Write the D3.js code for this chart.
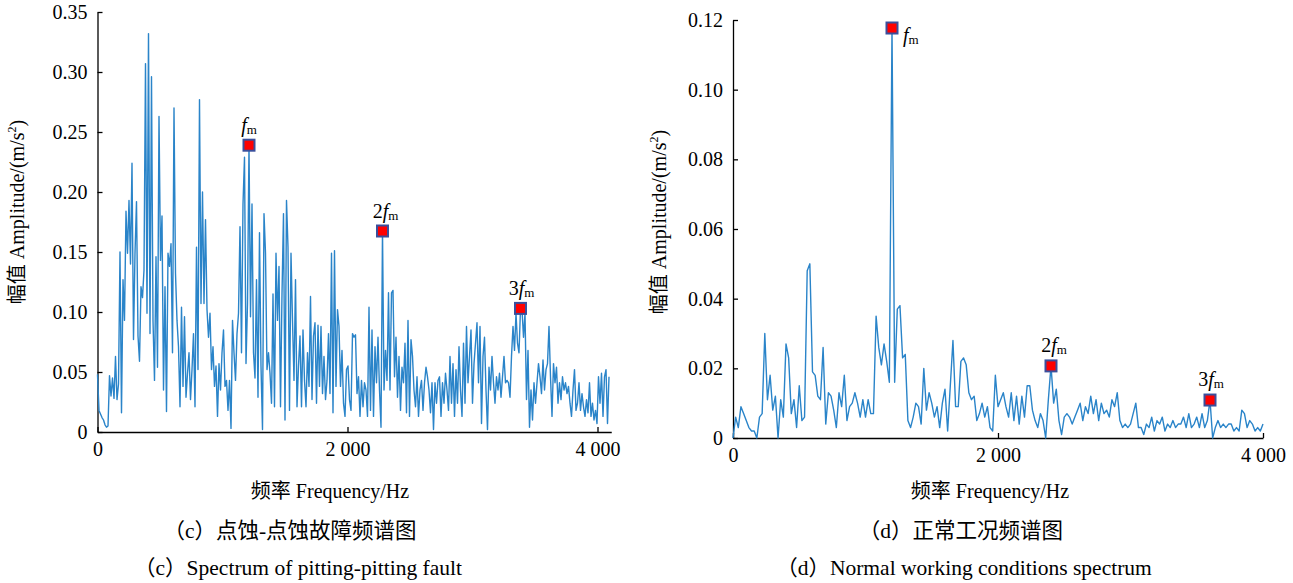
<!DOCTYPE html>
<html><head><meta charset="utf-8">
<script src="https://cdn.jsdelivr.net/npm/d3@7"></script>
<style>
body{margin:0;background:#fff}
text{font-family:'Liberation Serif','Times New Roman','Noto Sans CJK SC',serif;fill:#000}
</style>
</head><body><svg id="c" width="1293" height="583"></svg>
<script>
// ---------- data ----------
const leftStep = 12; // Hz between spectrum lines, panel (c)
const leftAmp = [
0.048,0.018,0.015,0.012,0.010,0.006,0.004,0.005,0.047,0.030,
0.045,0.028,0.063,0.027,0.040,0.150,0.016,0.127,0.093,0.184,
0.149,0.193,0.140,0.224,0.077,0.149,0.192,0.080,0.059,0.121,
0.112,0.135,0.307,0.099,0.332,0.082,0.296,0.093,0.043,0.146,
0.054,0.263,0.143,0.180,0.035,0.121,0.017,0.149,0.138,0.157,
0.066,0.270,0.132,0.093,0.071,0.021,0.104,0.038,0.096,0.029,
0.049,0.066,0.027,0.052,0.082,0.021,0.154,0.052,0.277,0.107,
0.200,0.107,0.177,0.102,0.079,0.099,0.052,0.071,0.038,0.055,
0.013,0.057,0.035,0.066,0.085,0.038,0.043,0.018,0.043,0.003,
0.093,0.066,0.043,0.082,0.099,0.171,0.066,0.190,0.229,0.057,
0.107,0.239,
0.096,0.190,0.066,0.045,0.127,0.029,0.166,0.055,0.002,0.182,
0.149,0.052,0.066,0.049,0.024,0.115,0.021,0.149,0.093,0.138,
0.021,0.115,0.182,0.010,0.193,0.154,0.018,0.149,0.093,0.043,
0.127,0.021,0.055,0.080,0.021,0.085,0.043,0.021,0.066,0.038,
0.113,0.027,0.080,0.091,0.024,0.089,0.038,0.088,0.032,0.063,
0.027,0.043,0.082,0.032,0.149,0.016,0.151,0.038,0.102,0.088,
0.038,0.068,0.024,0.013,0.052,0.055,0.027,0.018,0.082,0.079,
0.081,0.032,0.046,0.013,0.043,0.021,0.041,0.035,0.013,0.104,
0.018,0.085,0.013,0.071,0.041,0.079,0.035,0.004,0.1675,0.035,
0.068,0.043,0.116,0.035,0.116,0.118,0.046,0.079,0.029,0.063,
0.018,0.054,0.041,0.074,0.016,0.093,0.013,0.077,0.063,0.035,
0.021,0.046,0.013,0.035,0.043,0.018,0.041,0.054,0.046,0.035,
0.016,0.041,0.002,0.041,0.024,0.043,0.046,0.013,0.041,0.024,
0.049,0.035,0.018,0.063,0.024,0.057,0.013,0.052,0.024,0.071,
0.035,0.013,0.074,0.024,0.088,0.041,0.063,0.085,0.024,0.057,
0.074,0.091,0.041,0.088,0.007,0.063,0.079,0.035,0.002,0.054,
0.035,0.063,0.041,0.024,0.046,0.035,0.049,0.029,0.046,0.063,
0.041,0.043,0.041,0.029,0.063,0.088,0.068,0.099,0.074,0.066,
0.103,0.102,0.079,0.099,0.027,0.068,0.004,0.035,0.010,0.041,
0.024,0.041,0.057,0.046,0.032,0.060,0.035,0.052,0.057,0.088,
0.046,0.013,0.057,0.041,0.054,0.024,0.041,0.027,0.046,0.035,
0.041,0.032,0.038,0.024,0.013,0.035,0.052,0.018,0.024,0.041,
0.018,0.032,0.021,0.013,0.027,0.016,0.041,0.013,0.024,0.010,
0.018,0.007,0.046,0.024,0.049,0.013,0.046,0.052,0.007,0.046
];
const leftMarkFreq = [1212, 2280, 3384];
const leftMarkAmp  = [0.239, 0.1675, 0.103];
const markMult     = ["", "2", "3"];

const rightStep = 20; // Hz, panel (d)
const rightAmp = [
0.000,0.006,0.003,0.009,0.007,0.005,0.003,0.002,0.002,0.000,
0.006,0.007,0.030,0.011,0.018,0.008,0.012,0.000,0.011,0.006,
0.027,0.023,0.007,0.011,0.003,0.015,0.005,0.006,0.048,0.050,
0.019,0.018,0.012,0.011,0.026,0.004,0.013,0.012,0.008,0.003,
0.013,0.009,0.018,0.005,0.009,0.010,0.013,0.010,0.006,0.011,
0.006,0.011,0.007,0.007,0.035,0.026,0.021,0.027,0.022,0.016,
0.1177,0.016,0.037,0.038,0.023,0.024,0.005,0.003,0.006,0.010,
0.009,0.004,0.020,0.008,0.013,0.010,0.006,0.009,0.003,0.010,
0.014,0.002,0.015,0.028,0.009,0.009,0.022,0.023,0.021,0.013,
0.011,0.012,0.005,0.007,0.010,0.006,0.009,0.003,0.002,0.018,
0.009,0.011,0.013,0.009,0.006,0.013,0.005,0.012,0.004,0.012,
0.006,0.015,0.015,0.008,0.005,0.003,0.007,0.005,0.000,0.011,
0.0207,0.010,0.014,0.005,0.001,0.006,0.007,0.006,0.004,0.006,
0.008,0.010,0.005,0.009,0.007,0.012,0.007,0.011,0.005,0.010,
0.007,0.008,0.006,0.011,0.009,0.013,0.005,0.003,0.004,0.003,
0.004,0.007,0.010,0.003,0.003,0.001,0.004,0.003,0.006,0.002,
0.005,0.004,0.006,0.002,0.004,0.003,0.005,0.003,0.004,0.004,
0.006,0.003,0.007,0.003,0.004,0.006,0.003,0.007,0.003,0.005,
0.0109,0.000,0.003,0.005,0.003,0.004,0.003,0.004,0.004,0.002,
0.003,0.002,0.008,0.007,0.003,0.005,0.004,0.002,0.003,0.002,
0.004
];
const rightMarkFreq = [1200, 2400, 3600];
const rightMarkAmp  = [0.1177, 0.0207, 0.0109];

const leftYTicks  = [0, 0.05, 0.10, 0.15, 0.20, 0.25, 0.30, 0.35];
const rightYTicks = [0, 0.02, 0.04, 0.06, 0.08, 0.10, 0.12];
const xTicks = [0, 2000, 4000];

const yTitleCN = "幅值 ", yTitleEN = "Amplitude/(m/s", yTitleSup = "2", yTitleEnd = ")";
const xTitle = "频率 Frequency/Hz";
const leftCap1 = "（c）点蚀-点蚀故障频谱图";
const leftCap2 = "（c）Spectrum of pitting-pitting fault";
const rightCap1 = "（d）正常工况频谱图";
const rightCap2 = "（d）Normal working conditions spectrum";

// ---------- drawing ----------
const svg = d3.select("#c");
const fmtY = d => d === 0 ? "0" : d3.format(".2f")(d);
const fmtX = d => d === 0 ? "0" : d3.format(",")(d).replace(/,/g, " ");

function panel(o) {
  const x = d3.scaleLinear().domain(o.xDomain).range(o.xRange);
  const y = d3.scaleLinear().domain(o.yDomain).range(o.yRange);
  const g = svg.append("g");

  const ax = g.append("g").attr("transform", `translate(0,${o.yRange[0]})`)
    .call(d3.axisBottom(x).tickValues(xTicks).tickFormat(fmtX)
      .tickSizeInner(-5).tickSizeOuter(0).tickPadding(10));
  const ay = g.append("g").attr("transform", `translate(${o.xRange[0]},0)`)
    .call(d3.axisLeft(y).tickValues(o.yTicks).tickFormat(fmtY)
      .tickSizeInner(-5).tickSizeOuter(0).tickPadding(10));
  [ax, ay].forEach(a => {
    a.selectAll("path.domain").attr("stroke", "#000").attr("stroke-width", 1.3);
    a.selectAll(".tick line").attr("stroke", "#000").attr("stroke-width", 1.3);
    a.selectAll("text").attr("font-size", 20).attr("fill", "#000")
      .style("font-family", "'Liberation Serif','Times New Roman',serif");
  });

  const line = d3.line().x((d, i) => x(i * o.step)).y(d => y(d));
  g.append("path").datum(o.amp).attr("d", line)
    .attr("fill", "none").attr("stroke", "#2a84c9").attr("stroke-width", 1.4)
    .attr("stroke-linejoin", "round");

  o.markF.forEach((f, i) => {
    const cx = x(f), cy = y(o.markA[i]);
    g.append("rect").attr("x", cx - 5.5).attr("y", cy - 5.5)
      .attr("width", 11).attr("height", 11)
      .attr("fill", "#ff0000").attr("stroke", "#3a4f9c").attr("stroke-width", 2);
    const lp = o.labelPos[i];
    const t = g.append("text").attr("x", cx + lp[0]).attr("y", cy + lp[1])
      .attr("text-anchor", lp[2]).attr("font-size", 20);
    if (markMult[i]) t.append("tspan").text(markMult[i]);
    t.append("tspan").attr("font-style", "italic").text("f");
    t.append("tspan").attr("font-size", 13).attr("dy", 2).text("m");
  });

  const yt = g.append("text")
    .attr("transform", `translate(${o.yTitlePos[0]},${o.yTitlePos[1]}) rotate(-90)`)
    .attr("text-anchor", "middle").attr("font-size", 20);
  yt.append("tspan").text(yTitleCN);
  yt.append("tspan").text(yTitleEN);
  yt.append("tspan").attr("font-size", 12).attr("dy", -8).text(yTitleSup);
  yt.append("tspan").attr("dy", 8).text(yTitleEnd);

  g.append("text").attr("x", o.xTitleX).attr("y", 498).attr("text-anchor", "middle")
    .attr("font-size", 20).text(xTitle);
  g.append("text").attr("x", o.cap1X).attr("y", 538).attr("text-anchor", "middle")
    .attr("font-size", 21.5).text(o.cap1);
  g.append("text").attr("x", o.cap2X).attr("y", 575).attr("text-anchor", "middle")
    .attr("font-size", 21.5).text(o.cap2);
}

panel({
  step: leftStep, amp: leftAmp,
  xDomain: [0, 4110], xRange: [97.5, 611.25],
  yDomain: [0, 0.35], yRange: [432, 12], yTicks: leftYTicks,
  markF: leftMarkFreq, markA: leftMarkAmp,
  labelPos: [[0, -13, "middle"], [3, -13, "middle"], [1, -13, "middle"]],
  yTitlePos: [24, 212], xTitleX: 330, cap1X: 290, cap2X: 298, cap1: leftCap1, cap2: leftCap2
});
panel({
  step: rightStep, amp: rightAmp,
  xDomain: [0, 4000], xRange: [733, 1263],
  yDomain: [0, 0.12], yRange: [438, 20], yTicks: rightYTicks,
  markF: rightMarkFreq, markA: rightMarkAmp,
  labelPos: [[11, 14, "start"], [3, -14, "middle"], [1, -14, "middle"]],
  yTitlePos: [666, 222], xTitleX: 990, cap1X: 961, cap2X: 964, cap1: rightCap1, cap2: rightCap2
});
</script>
</body></html>
